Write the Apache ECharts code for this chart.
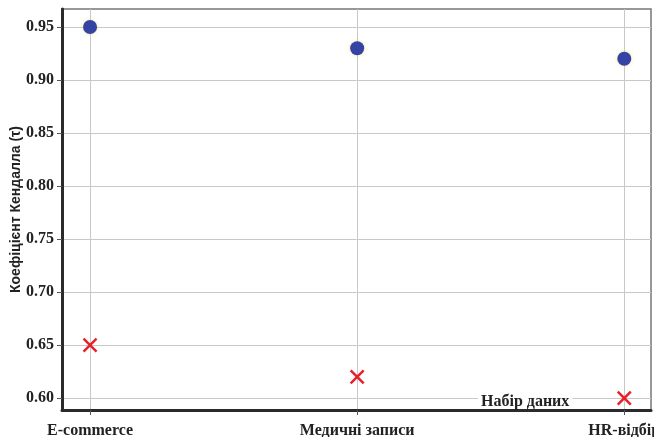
<!DOCTYPE html>
<html>
<head>
<meta charset="utf-8">
<script src="https://cdn.jsdelivr.net/npm/echarts@6/dist/echarts.min.js"></script>
<style>
  html, body { margin: 0; padding: 0; background: #fff; }
  #chart { width: 654px; height: 437px; }
</style>
</head>
<body>
<div id="chart"></div>
<script>
// Kendall tau per dataset, two methods
const datasets = ['E-commerce', 'Медичні записи', 'HR-відбір'];
const tauHigh = [0.95, 0.93, 0.92];
const tauLow = [0.65, 0.62, 0.60];
const yTicks = [0.60, 0.65, 0.70, 0.75, 0.80, 0.85, 0.90, 0.95];
const xTicks = [0, 1, 2];

const SERIF = '"Liberation Serif", serif';
const NARROW = '"Liberation Sans Narrow", "Liberation Sans", sans-serif';
const crossPath = 'path://M0,0 L10,10 M10,0 L0,10';

const chart = echarts.init(document.getElementById('chart'));
chart.setOption({
  animation: false,
  grid: {
    left: 62, top: 9, right: 3, bottom: 27,
    containLabel: false, outerBoundsMode: 'none',
    show: true, borderColor: '#777', borderWidth: 1.5, backgroundColor: 'transparent'
  },
  xAxis: {
    type: 'value',
    min: -0.105, max: 2.1,
    axisLine: { show: true, onZero: false, lineStyle: { color: '#2b2b2b', width: 3 } },
    axisTick: { show: true, customValues: xTicks, length: 5, lineStyle: { color: '#555' } },
    axisLabel: {
      customValues: xTicks,
      formatter: v => datasets[Math.round(v)] || '',
      color: '#222', fontFamily: SERIF, fontWeight: 'bold', fontSize: 16, margin: 13
    },
    splitLine: { show: true, customValues: xTicks, lineStyle: { color: '#c8c8c8', width: 1 } }
  },
  yAxis: {
    type: 'value',
    min: 0.5887, max: 0.967,
    name: 'Коефіцієнт Кендалла (τ)',
    nameLocation: 'middle', nameGap: 39, nameMoveOverlap: false,
    nameTextStyle: { color: '#222', fontFamily: NARROW, fontWeight: 'bold', fontSize: 14 },
    axisLine: { show: true, onZero: false, lineStyle: { color: '#2b2b2b', width: 3 } },
    axisTick: { show: true, customValues: yTicks, length: 5, lineStyle: { color: '#555' } },
    axisLabel: {
      customValues: yTicks,
      formatter: v => v.toFixed(2),
      color: '#222', fontFamily: SERIF, fontWeight: 'bold', fontSize: 16, margin: 8
    },
    splitLine: { show: true, customValues: yTicks, lineStyle: { color: '#c8c8c8', width: 1 } }
  },
  graphic: [{
    type: 'text', left: 478, top: 394, z: 100,
    style: {
      text: 'Набір даних', fill: '#222', font: 'bold 16px "Liberation Serif"',
      lineHeight: 14, backgroundColor: '#fff', padding: [0, 3]
    }
  }],
  series: [
    {
      type: 'scatter',
      data: tauHigh.map((v, i) => [i, v]),
      symbol: 'circle', symbolSize: 14,
      itemStyle: { color: '#3443a4', opacity: 1, shadowColor: 'rgba(230,220,120,0.6)', shadowBlur: 4 }
    },
    {
      type: 'scatter',
      data: tauLow.map((v, i) => [i, v]),
      symbol: crossPath, symbolSize: 13,
      itemStyle: { color: 'none', opacity: 1, borderColor: '#e8202a', borderWidth: 2.5 }
    }
  ]
});
</script>
</body>
</html>
